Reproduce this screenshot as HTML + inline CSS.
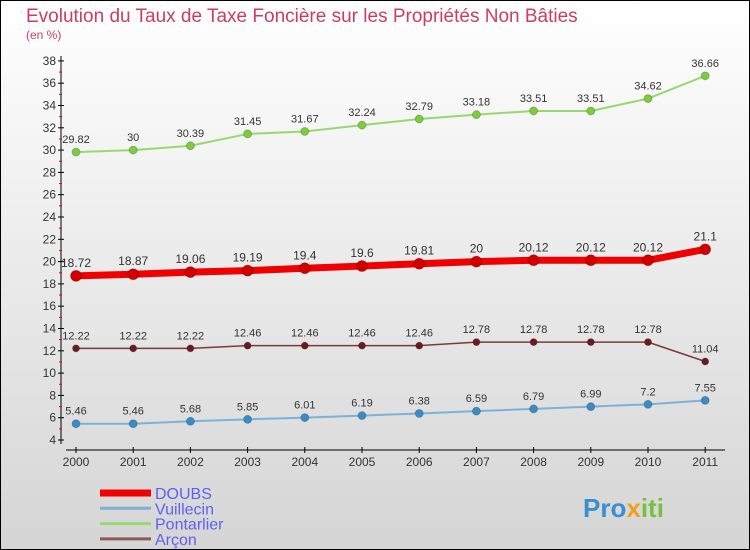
<!DOCTYPE html>
<html><head><meta charset="utf-8"><style>
body{margin:0}
svg{display:block;font-family:"Liberation Sans","DejaVu Sans",sans-serif}
</style></head><body>
<svg width="750" height="550">
<defs><linearGradient id="bg" x1="0" y1="0" x2="0" y2="1"><stop offset="0" stop-color="#ffffff"/><stop offset="1" stop-color="#d5d5d5"/></linearGradient></defs>
<rect x="0.5" y="0.5" width="749" height="549" fill="url(#bg)" stroke="#000"/>
<text x="26" y="22" font-size="19" fill="#cc3d66">Evolution du Taux de Taxe Foncière sur les Propriétés Non Bâties</text>
<text x="26" y="39" font-size="12" fill="#cc3d66">(en %)</text>
<g id="axes"></g>
<g id="series"></g>
<g id="legend"></g>
<text x="583" y="517" font-size="26" font-weight="bold" fill="#3a8fd0">Pro<tspan fill="#f0a020">x</tspan><tspan fill="#7ac040">iti</tspan></text>
</svg>
<script>
const years=["2000","2001","2002","2003","2004","2005","2006","2007","2008","2009","2010","2011"];
const doubs=[18.72,18.87,19.06,19.19,19.4,19.6,19.81,20,20.12,20.12,20.12,21.1];
const vuillecin=[5.46,5.46,5.68,5.85,6.01,6.19,6.38,6.59,6.79,6.99,7.2,7.55];
const pontarlier=[29.82,30,30.39,31.45,31.67,32.24,32.79,33.18,33.51,33.51,34.62,36.66];
const arcon=[12.22,12.22,12.22,12.46,12.46,12.46,12.46,12.78,12.78,12.78,12.78,11.04];
const yTicks=[4,6,8,10,12,14,16,18,20,22,24,26,28,30,32,34,36,38];
const NS="http://www.w3.org/2000/svg";
const X=i=>76+i*57.2, Y=v=>440-(v-4)*11.15;
function mk(t,a,p){const e=document.createElementNS(NS,t);for(const k in a)e.setAttribute(k,a[k]);p.appendChild(e);return e;}
const ax=document.getElementById('axes');
let l=mk('line',{x1:61,y1:56,x2:61,y2:444,stroke:'#000'},ax);

l=mk('line',{x1:66,y1:450,x2:725,y2:450,stroke:'#000'},ax);

yTicks.forEach(v=>{mk('line',{x1:58,y1:Y(v),x2:64,y2:Y(v),stroke:'#000'},ax);
 if(v<38)mk('line',{x1:59,y1:Y(v+1),x2:62,y2:Y(v+1),stroke:'#e00'},ax);
 const t=mk('text',{x:56,y:Y(v)+4,'font-size':12,fill:'#333','text-anchor':'end'},ax);t.textContent=v;
 });
years.forEach((y,i)=>{mk('line',{x1:X(i),y1:447,x2:X(i),y2:453,stroke:'#000'},ax);
 const t=mk('text',{x:X(i),y:466,'font-size':12,fill:'#333','text-anchor':'middle'},ax);t.textContent=y;
 });
const sg=document.getElementById('series');
function series(name,vals,color,w,r,dot,fs){
 const g=mk('g',{},sg);
 const p=mk('polyline',{points:vals.map((v,i)=>X(i)+','+Y(v)).join(' '),fill:'none',stroke:color,'stroke-width':w,'stroke-linejoin':'round'},g);
 
 vals.forEach((v,i)=>{const c=mk('circle',{cx:X(i),cy:Y(v),r:r,fill:dot,stroke:'#0003'},g);
  
  const t=mk('text',{x:X(i),y:Y(v)-9,'font-size':fs,fill:'#333','text-anchor':'middle'},g);t.textContent=v;
  });
}
series('vuillecin',vuillecin,'#7fb0d8',2,4,'#3a8cc8',11);
series('pontarlier',pontarlier,'#99d870',2,4,'#7ccc3c',11);
series('arcon',arcon,'#7a3a3a',1.5,3.5,'#6a1a22',11);
series('doubs',doubs,'#f00000',7,5.5,'#d00000',12);
const lg=document.getElementById('legend');
[['DOUBS','#f00000',7],['Vuillecin','#7fb0d8',3],['Pontarlier','#99d870',3],['Arçon','#8a5a5a',3]].forEach((d,i)=>{
 const y=493+i*15.3;
 const g=mk('g',{},lg);
 mk('line',{x1:100,y1:y,x2:151,y2:y,stroke:d[1],'stroke-width':d[2]},g);
 const t=mk('text',{x:155,y:y+6,'font-size':16,fill:'#6060f0'},g);t.textContent=d[0];
});
</script>
</body></html>
